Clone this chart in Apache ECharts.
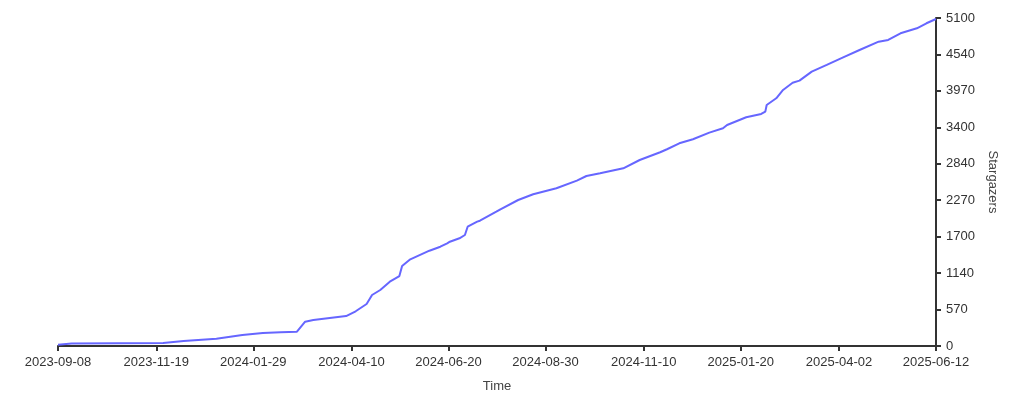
<!DOCTYPE html>
<html>
<head>
<meta charset="utf-8">
<script src="https://cdn.jsdelivr.net/npm/echarts@6/dist/echarts.min.js"></script>
<style>html,body{margin:0;padding:0;background:#fff}#c{width:1024px;height:400px}</style>
</head>
<body>
<div id="c"></div>
<script>
// Days since 2023-09-08
const days = [0, 10, 77, 92, 93, 116, 135, 150, 163, 175, 181, 187, 211, 218, 226, 230, 236, 243, 250, 252, 258, 272, 280, 285, 287, 294, 298, 300, 307, 309, 321, 324, 337, 348, 365, 380, 387, 397, 414, 426, 441, 446, 455, 465, 477, 487, 490, 504, 515, 518, 519, 526, 531, 538, 543, 552, 563, 575, 587, 601, 608, 617, 629, 636, 643];
const stars = [20, 38, 45, 78, 88, 113, 171, 202, 213, 222, 378, 404, 466, 540, 653, 793, 871, 1000, 1088, 1244, 1348, 1482, 1544, 1597, 1622, 1675, 1726, 1855, 1933, 1948, 2088, 2126, 2270, 2359, 2452, 2571, 2643, 2685, 2763, 2892, 3012, 3059, 3152, 3214, 3317, 3385, 3437, 3556, 3608, 3644, 3748, 3852, 3981, 4094, 4126, 4266, 4370, 4489, 4603, 4732, 4758, 4862, 4940, 5018, 5085];
const xTickDays = [0, 72, 143, 215, 286, 357, 429, 500, 572, 643];
const xTickLabels = ['2023-09-08', '2023-11-19', '2024-01-29', '2024-04-10', '2024-06-20', '2024-08-30', '2024-11-10', '2025-01-20', '2025-04-02', '2025-06-12'];
const yTickLabels = ['0', '570', '1140', '1700', '2270', '2840', '3400', '3970', '4540', '5100'];
const yMax = 5100;

const data = days.map((d, i) => [d, stars[i]]);
const yTickValues = yTickLabels.map((_, i) => yMax * i / (yTickLabels.length - 1));

const chart = echarts.init(document.getElementById('c'));
const txt = '#333';
const font = '"Liberation Sans", Arial, Helvetica, sans-serif';
chart.setOption({
  animation: false,
  textStyle: { fontFamily: font },
  grid: { left: 58, right: 88, top: 18, bottom: 54 },
  xAxis: {
    type: 'value', min: 0, max: 643,
    name: 'Time', nameLocation: 'middle', nameGap: 34,
    nameTextStyle: { color: '#444', fontSize: 13, fontFamily: font },
    axisLine: { show: true, onZero: false, lineStyle: { color: '#333', width: 2 } },
    axisTick: { show: true, length: 5, lineStyle: { color: '#333', width: 2 }, customValues: xTickDays },
    axisLabel: { color: txt, fontSize: 13, margin: 10, fontFamily: font, customValues: xTickDays,
      formatter: v => { const i = xTickDays.indexOf(v); return i >= 0 ? xTickLabels[i] : ''; } },
    splitLine: { show: false }
  },
  yAxis: {
    type: 'value', position: 'right', min: 0, max: yMax,
    name: 'Stargazers', nameLocation: 'middle', nameGap: 46, nameRotate: -90,
    nameTextStyle: { color: '#444', fontSize: 13, fontFamily: font },
    axisLine: { show: true, onZero: false, lineStyle: { color: '#333', width: 2 } },
    axisTick: { show: true, length: 5, lineStyle: { color: '#333', width: 2 }, customValues: yTickValues },
    axisLabel: { color: txt, fontSize: 13, margin: 10, fontFamily: font, customValues: yTickValues,
      formatter: (v) => { let best = 0; yTickValues.forEach((t, i) => { if (Math.abs(t - v) < Math.abs(yTickValues[best] - v)) best = i; }); return yTickLabels[best]; } },
    splitLine: { show: false }
  },
  series: [{
    type: 'line', data: data, showSymbol: false, symbol: 'none',
    lineStyle: { color: '#6666ff', width: 2 }
  }]
});
</script>
</body>
</html>
